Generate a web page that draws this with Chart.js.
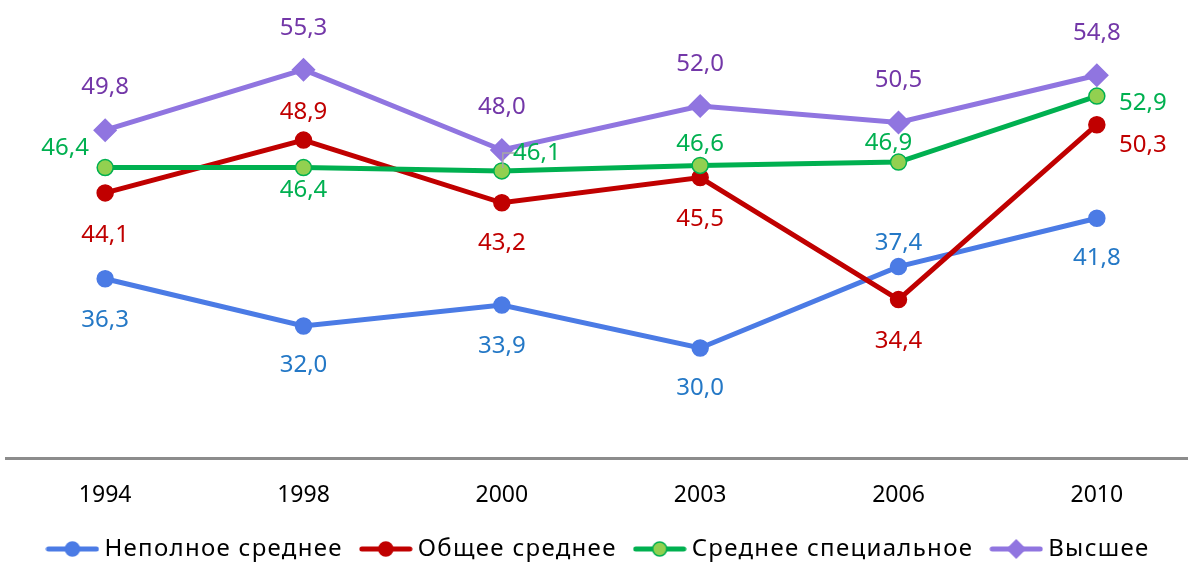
<!DOCTYPE html>
<html>
<head>
<meta charset="utf-8">
<script src="https://cdn.jsdelivr.net/npm/chart.js@4.4.0/dist/chart.umd.min.js"></script>
<style>
  html, body { margin: 0; padding: 0; background: #fff; overflow: hidden; }
  #wrap { position: relative; width: 1196px; height: 589px; }
</style>
</head>
<body>
<div id="wrap"><canvas id="grafico"></canvas></div>
<script>
// dados
var anos = ['1994', '1998', '2000', '2003', '2006', '2010'];
var nomes = ['Неполное среднее', 'Общее среднее', 'Среднее специальное', 'Высшее'];
var vNepolnoe = [36.3, 32.0, 33.9, 30.0, 37.4, 41.8];
var vObshee = [44.1, 48.9, 43.2, 45.5, 34.4, 50.3];
var vSpecial = [46.4, 46.4, 46.1, 46.6, 46.9, 52.9];
var vVysshee = [49.8, 55.3, 48.0, 52.0, 50.5, 54.8];

var FONTE = '"Noto Sans", "Open Sans", sans-serif';

// onde fica cada rótulo, em relação ao ponto (dx, dy)
var rotulos = [
  [[0, 41], [0, 39], [0, 41], [0, 40], [0, -23], [0, 40]],
  [[0, 42], [0, -28], [0, 40], [0, 42], [0, 42], [46, 20]],
  [[-40, -19], [0, 23], [35, -18], [0, -21], [-10, -19], [46, 7]],
  [[0, -43], [0, -42], [0, -43], [0, -42], [0, -42], [0, -42]]
];
var corRotulo = ['#2478C6', '#C00000', '#00B050', '#7337A8'];

function fmt(v){
  return v.toFixed(1).replace('.', ',');
}

// desenha os valores junto dos pontos
var pluginRotulos = {
  id: 'rotulos',
  afterInit: function(chart){
    // espaçamento entre letras e posição só na legenda
    var lg = chart.legend;
    if (!lg) return;
    var fit = lg.fit, draw = lg.draw;
    lg.fit = function(){
      chart.ctx.letterSpacing = '1.3px';
      fit.apply(this, arguments);
      chart.ctx.letterSpacing = '0px';
    };
    lg.draw = function(){
      var t = this.top;
      this.top = t - 18;
      chart.ctx.letterSpacing = '1.3px';
      draw.apply(this, arguments);
      chart.ctx.letterSpacing = '0px';
      this.top = t;
    };
  },
  afterDatasetsDraw: function(chart){
    var ctx = chart.ctx;
    ctx.save();
    // linha guia do 46,1
    var pg = chart.getDatasetMeta(2).data[2];
    ctx.strokeStyle = '#A6A6A6';
    ctx.lineWidth = 1.5;
    ctx.beginPath();
    ctx.moveTo(pg.x + 1, pg.y - 3);
    ctx.lineTo(pg.x + 1, pg.y - 18);
    ctx.lineTo(pg.x + 16, pg.y - 18);
    ctx.stroke();

    ctx.font = '24px ' + FONTE;
    ctx.textAlign = 'center';
    ctx.textBaseline = 'middle';
    chart.data.datasets.forEach(function(ds, i){
      var meta = chart.getDatasetMeta(i);
      ctx.fillStyle = corRotulo[i];
      meta.data.forEach(function(pt, j){
        var off = rotulos[i][j];
        ctx.fillText(fmt(ds.data[j]), pt.x + off[0], pt.y + off[1]);
      });
    });
    ctx.restore();
  }
};

// ícone da legenda: linha + marcador
function iconeLegenda(cor, fundo, estilo){
  var c = document.createElement('canvas');
  c.width = 54; c.height = 24;
  var g = c.getContext('2d');
  g.strokeStyle = cor;
  g.lineWidth = 5;
  g.lineCap = 'round';
  g.beginPath();
  g.moveTo(3, 12); g.lineTo(51, 12);
  g.stroke();
  g.fillStyle = fundo;
  if (estilo == 'rectRot'){
    g.beginPath();
    g.moveTo(27, 2); g.lineTo(37, 12); g.lineTo(27, 22); g.lineTo(17, 12);
    g.closePath();
    g.fillStyle = cor;
    g.fill();
  } else {
    g.beginPath();
    g.arc(27, 12, 7, 0, Math.PI * 2);
    g.fill();
    g.lineWidth = 1.5;
    g.stroke();
  }
  return c;
}

var estilos = [
  {linha: '#4B7BE5', fundo: '#4B7BE5', ponto: 'circle', raio: 8, ordem: 4},
  {linha: '#C00000', fundo: '#C00000', ponto: 'circle', raio: 8, ordem: 3},
  {linha: '#00B050', fundo: '#92D050', ponto: 'circle', raio: 8, ordem: 2},
  {linha: '#9075E0', fundo: '#9075E0', ponto: 'rectRot', raio: 11, ordem: 1}
];
var series = [vNepolnoe, vObshee, vSpecial, vVysshee];

var datasets = series.map(function(valores, i){
  var e = estilos[i];
  return {
    label: nomes[i],
    data: valores,
    borderColor: e.linha,
    backgroundColor: e.fundo,
    borderWidth: 5,
    pointStyle: e.ponto,
    pointRadius: e.raio,
    pointHoverRadius: e.raio,
    pointBackgroundColor: e.fundo,
    pointBorderColor: e.linha,
    pointBorderWidth: 1.5,
    tension: 0,
    order: e.ordem,
    icone: iconeLegenda(e.linha, e.fundo, e.ponto)
  };
});

var ctx = document.getElementById('grafico').getContext('2d');
window.meuGrafico = new Chart(ctx, {
  type: 'line',
  data: { labels: anos, datasets: datasets },
  options: {
    responsive: true,
    maintainAspectRatio: false,
    animation: false,
    layout: { autoPadding: false, padding: { top: 18, left: 6, right: 0, bottom: 0 } },
    scales: {
      x: {
        offset: true,
        grid: { display: false, drawTicks: false },
        border: { display: true, color: '#8C8C8C', width: 3 },
        ticks: { color: '#000', font: { family: FONTE, size: 23, lineHeight: 2 }, padding: 14 }
      },
      y: {
        display: false,
        min: 20,
        max: 60
      }
    },
    plugins: {
      tooltip: { enabled: false },
      legend: {
        position: 'bottom',
        labels: {
          usePointStyle: true,
          pointStyleWidth: 40,
          padding: 23,
          color: '#000',
          font: { family: FONTE, size: 24 },
          sort: function(a, b){ return a.datasetIndex - b.datasetIndex; },
          generateLabels: function(chart){
            return chart.data.datasets.map(function(ds, i){
              return {
                text: ds.label,
                datasetIndex: i,
                pointStyle: ds.icone,
                fillStyle: ds.backgroundColor,
                strokeStyle: ds.borderColor,
                lineWidth: 0,
                fontColor: '#000'
              };
            });
          }
        }
      }
    }
  },
  plugins: [pluginRotulos]
});
</script>
</body>
</html>
